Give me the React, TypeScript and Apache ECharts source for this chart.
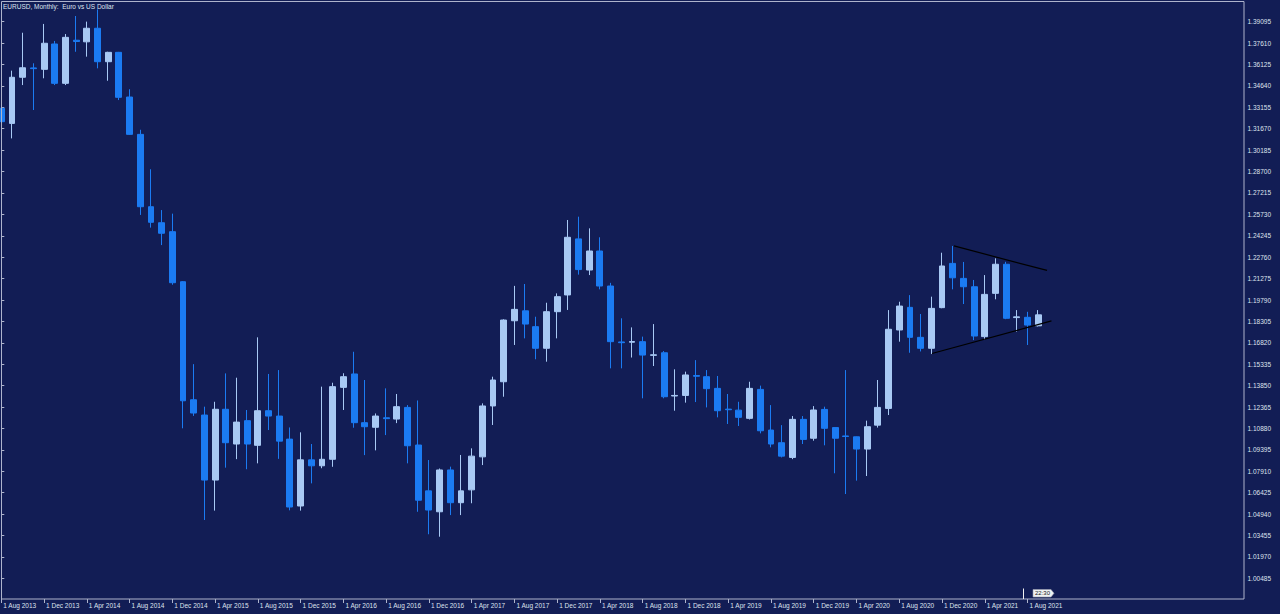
import React, { useEffect, useRef } from 'react';
import * as echarts from 'echarts';

const months: string[] = [
  '1 Aug 2013', '1 Sep 2013', '1 Oct 2013', '1 Nov 2013', '1 Dec 2013',
  '1 Jan 2014', '1 Feb 2014', '1 Mar 2014', '1 Apr 2014', '1 May 2014', '1 Jun 2014', '1 Jul 2014', '1 Aug 2014', '1 Sep 2014', '1 Oct 2014', '1 Nov 2014', '1 Dec 2014',
  '1 Jan 2015', '1 Feb 2015', '1 Mar 2015', '1 Apr 2015', '1 May 2015', '1 Jun 2015', '1 Jul 2015', '1 Aug 2015', '1 Sep 2015', '1 Oct 2015', '1 Nov 2015', '1 Dec 2015',
  '1 Jan 2016', '1 Feb 2016', '1 Mar 2016', '1 Apr 2016', '1 May 2016', '1 Jun 2016', '1 Jul 2016', '1 Aug 2016', '1 Sep 2016', '1 Oct 2016', '1 Nov 2016', '1 Dec 2016',
  '1 Jan 2017', '1 Feb 2017', '1 Mar 2017', '1 Apr 2017', '1 May 2017', '1 Jun 2017', '1 Jul 2017', '1 Aug 2017', '1 Sep 2017', '1 Oct 2017', '1 Nov 2017', '1 Dec 2017',
  '1 Jan 2018', '1 Feb 2018', '1 Mar 2018', '1 Apr 2018', '1 May 2018', '1 Jun 2018', '1 Jul 2018', '1 Aug 2018', '1 Sep 2018', '1 Oct 2018', '1 Nov 2018', '1 Dec 2018',
  '1 Jan 2019', '1 Feb 2019', '1 Mar 2019', '1 Apr 2019', '1 May 2019', '1 Jun 2019', '1 Jul 2019', '1 Aug 2019', '1 Sep 2019', '1 Oct 2019', '1 Nov 2019', '1 Dec 2019',
  '1 Jan 2020', '1 Feb 2020', '1 Mar 2020', '1 Apr 2020', '1 May 2020', '1 Jun 2020', '1 Jul 2020', '1 Aug 2020', '1 Sep 2020', '1 Oct 2020', '1 Nov 2020', '1 Dec 2020',
  '1 Jan 2021', '1 Feb 2021', '1 Mar 2021', '1 Apr 2021', '1 May 2021', '1 Jun 2021', '1 Jul 2021', '1 Aug 2021', '1 Sep 2021',
];

const opens: number[] = [
  1.3309, 1.3204, 1.3524, 1.3589, 1.3579, 1.3755, 1.3482, 1.3781, 1.3770, 1.3864,
  1.3632, 1.3697, 1.3387, 1.3128, 1.2626, 1.2515, 1.2453, 1.2106, 1.1287, 1.1181,
  1.0730, 1.1221, 1.0980, 1.1142, 1.0971, 1.1211, 1.1174, 1.1014, 1.0550, 1.0870,
  1.0829, 1.0874, 1.1373, 1.1466, 1.1128, 1.1096, 1.1162, 1.1153, 1.1234, 1.0973,
  1.0655, 1.0510, 1.0800, 1.0573, 1.0662, 1.0891, 1.1244, 1.1412, 1.1835, 1.1904,
  1.1794, 1.1644, 1.1898, 1.2014, 1.2403, 1.2187, 1.2319, 1.2076, 1.1688, 1.1686,
  1.1690, 1.1595, 1.1613, 1.1313, 1.1317, 1.1455, 1.1447, 1.1366, 1.1222, 1.1215,
  1.1158, 1.1359, 1.1077, 1.0989, 1.0887, 1.1151, 1.1020, 1.1220, 1.1094, 1.1036,
  1.1030, 1.0945, 1.1111, 1.1227, 1.1771, 1.1928, 1.1720, 1.1644, 1.1926, 1.2233,
  1.2129, 1.2071, 1.1725, 1.2025, 1.2227, 1.1857, 1.1859, 1.1800,
];

const closes: number[] = [
  1.3216, 1.3524, 1.3590, 1.3584, 1.3760, 1.3482, 1.3801, 1.3772, 1.3864, 1.3632,
  1.3697, 1.3385, 1.3128, 1.2626, 1.2518, 1.2442, 1.2099, 1.1280, 1.1195, 1.0730,
  1.1221, 1.0989, 1.1132, 1.0980, 1.1211, 1.1174, 1.1000, 1.0543, 1.0870, 1.0829,
  1.0874, 1.1378, 1.1447, 1.1128, 1.1100, 1.1174, 1.1156, 1.1239, 1.0968, 1.0590,
  1.0522, 1.0800, 1.0573, 1.0655, 1.0896, 1.1244, 1.1424, 1.1840, 1.1914, 1.1812,
  1.1644, 1.1898, 1.2002, 1.2414, 1.2190, 1.2319, 1.2076, 1.1690, 1.1683, 1.1691,
  1.1597, 1.1599, 1.1308, 1.1317, 1.1459, 1.1450, 1.1364, 1.1211, 1.1218, 1.1165,
  1.1366, 1.1072, 1.0980, 1.0896, 1.1151, 1.1012, 1.1216, 1.1089, 1.1020, 1.1032,
  1.0945, 1.1100, 1.1234, 1.1776, 1.1937, 1.1720, 1.1644, 1.1921, 1.2215, 1.2133,
  1.2071, 1.1729, 1.2018, 1.2227, 1.1852, 1.1862, 1.1805, 1.1876,
];

const lows: number[] = [
  1.3208, 1.3100, 1.3470, 1.3297, 1.3517, 1.3470, 1.3470, 1.3701, 1.3667, 1.3586,
  1.3500, 1.3366, 1.3125, 1.2569, 1.2481, 1.2360, 1.2085, 1.1089, 1.1175, 1.0453,
  1.0518, 1.0816, 1.0875, 1.0805, 1.0846, 1.1077, 1.0877, 1.0520, 1.0518, 1.0707,
  1.0812, 1.0822, 1.1216, 1.1093, 1.0903, 1.0936, 1.1042, 1.1125, 1.0846, 1.0510,
  1.0354, 1.0337, 1.0487, 1.0487, 1.0569, 1.0834, 1.1112, 1.1308, 1.1667, 1.1713,
  1.1568, 1.1551, 1.1713, 1.1910, 1.2155, 1.2152, 1.2053, 1.1505, 1.1505, 1.1580,
  1.1297, 1.1521, 1.1297, 1.1211, 1.1267, 1.1271, 1.1234, 1.1165, 1.1119, 1.1105,
  1.1150, 1.1054, 1.0957, 1.0887, 1.0875, 1.0980, 1.1003, 1.0971, 1.0777, 1.0633,
  1.0726, 1.0758, 1.1094, 1.1181, 1.1690, 1.1613, 1.1622, 1.1604, 1.1922, 1.2053,
  1.1951, 1.1701, 1.1704, 1.1984, 1.1846, 1.1759, 1.1667, 1.1795,
];

const highs: number[] = [
  1.3320, 1.3570, 1.3833, 1.3621, 1.3894, 1.3776, 1.3824, 1.3949, 1.3910, 1.3995,
  1.3701, 1.3700, 1.3441, 1.3160, 1.2886, 1.2603, 1.2578, 1.2110, 1.1534, 1.1239,
  1.1273, 1.1470, 1.1440, 1.1216, 1.1720, 1.1466, 1.1493, 1.1095, 1.1061, 1.0980,
  1.1378, 1.1405, 1.1471, 1.1620, 1.1424, 1.1192, 1.1366, 1.1327, 1.1250, 1.1282,
  1.0869, 1.0810, 1.0823, 1.0904, 1.0950, 1.1262, 1.1447, 1.1845, 1.2077, 1.2090,
  1.1863, 1.1960, 1.2025, 1.2534, 1.2557, 1.2476, 1.2414, 1.2098, 1.1852, 1.1789,
  1.1725, 1.1812, 1.1625, 1.1498, 1.1482, 1.1562, 1.1493, 1.1452, 1.1327, 1.1273,
  1.1412, 1.1385, 1.1250, 1.1111, 1.1174, 1.1174, 1.1243, 1.1239, 1.1096, 1.1493,
  1.1032, 1.1142, 1.1424, 1.1909, 1.1967, 1.2013, 1.1882, 1.2002, 1.2307, 1.2354,
  1.2243, 1.2118, 1.2152, 1.2268, 1.2244, 1.1909, 1.1897, 1.1909,
];

// empty future slots on the right of the last bar
const emptySlots = 19;

const priceTicks: number[] = [
  1.00485, 1.0197, 1.03455, 1.0494, 1.06425, 1.0791, 1.09395, 1.1088, 1.12365,
  1.1385, 1.15335, 1.1682, 1.18305, 1.1979, 1.21275, 1.2276, 1.24245, 1.2573,
  1.27215, 1.287, 1.30185, 1.3167, 1.33155, 1.3464, 1.36125, 1.3761, 1.39095,
];

// trend lines: [bar index, price]
const upperTrend: number[][] = [[89.12, 1.2354], [97.82, 1.2184]];
const lowerTrend: number[][] = [[87.06, 1.1608], [98.24, 1.1834]];

const titleText = 'EURUSD, Monthly:  Euro vs US Dollar';
const timeText = '22:30';

const BG = '#121d55';
const UP = '#a8c9f4';
const DOWN = '#1b7bf2';
const FRAME = '#aeb4cc';
const TEXT = '#dfe3ee';
const FONT = 'Liberation Sans, Arial, sans-serif';

export default function App() {
  const ref = useRef<HTMLDivElement>(null);

  useEffect(() => {
    if (!ref.current) return;
    const chart = echarts.init(ref.current, null, { renderer: 'svg' });

    const categories = months.concat(new Array(emptySlots).fill(''));
    const candles = opens.map((o, i) => [o, closes[i], lows[i], highs[i]]);
    const nSlots = categories.length;
    const showIdx = (idx: number) => idx % 4 === 0 && idx < months.length;

    chart.setOption({
      animation: false,
      backgroundColor: BG,
      textStyle: { fontFamily: FONT },
      grid: {
        left: -4.045,
        right: 33.3,
        top: 2,
        bottom: 15,
        containLabel: false,
        outerBoundsMode: 'none',
      },
      xAxis: [
        {
          type: 'category',
          data: categories,
          boundaryGap: true,
          axisLine: { show: false },
          axisTick: {
            show: true,
            alignWithLabel: true,
            interval: (idx: number) => showIdx(idx),
            length: 4,
            lineStyle: { color: FRAME, width: 1 },
          },
          axisLabel: {
            interval: (idx: number) => showIdx(idx),
            align: 'left',
            margin: 3,
            padding: [0, 0, 0, 2],
            color: TEXT,
            fontSize: 6.5,
            fontFamily: FONT,
          },
          splitLine: { show: false },
        },
        {
          type: 'value',
          min: -0.5,
          max: nSlots - 0.5,
          show: false,
        },
      ],
      yAxis: {
        type: 'value',
        position: 'right',
        offset: -2.7,
        min: 0.99049,
        max: 1.40462,
        axisLine: { show: false },
        axisTick: {
          show: true,
          customValues: priceTicks,
          length: 3,
          lineStyle: { color: FRAME, width: 1 },
        },
        axisLabel: {
          customValues: priceTicks,
          formatter: (v: number) => v.toFixed(5),
          margin: 3.5,
          color: TEXT,
          fontSize: 6.5,
          fontFamily: FONT,
        },
        splitLine: { show: false },
      },
      series: [
        {
          type: 'candlestick',
          xAxisIndex: 0,
          yAxisIndex: 0,
          data: candles,
          barWidth: 6.4,
          clip: true,
          itemStyle: {
            color: UP,
            color0: DOWN,
            borderColor: UP,
            borderColor0: DOWN,
            borderWidth: 1,
          },
          silent: true,
        },
        {
          type: 'line',
          xAxisIndex: 1,
          yAxisIndex: 0,
          data: upperTrend,
          symbol: 'none',
          lineStyle: { color: '#000000', width: 1.2 },
          silent: true,
          z: 5,
        },
        {
          type: 'line',
          xAxisIndex: 1,
          yAxisIndex: 0,
          data: lowerTrend,
          symbol: 'none',
          lineStyle: { color: '#000000', width: 1.2 },
          silent: true,
          z: 5,
        },
      ],
      graphic: [
        {
          type: 'rect',
          shape: { x: 1.5, y: 1.5, width: 1242.5, height: 597.5 },
          style: { fill: 'transparent', stroke: FRAME, lineWidth: 1 },
          silent: true,
          z: 100,
        },
        {
          type: 'text',
          x: 3,
          y: 2.5,
          style: {
            text: titleText,
            fill: TEXT,
            fontSize: 6.5,
            fontFamily: FONT,
          },
          silent: true,
          z: 101,
        },
        {
          type: 'line',
          shape: { x1: 1023.5, y1: 588.5, x2: 1023.5, y2: 599 },
          style: { stroke: '#f0f0f0', lineWidth: 1 },
          silent: true,
          z: 101,
        },
        {
          type: 'polygon',
          shape: {
            points: [[1033, 589.5], [1051, 589.5], [1054, 593.3], [1051, 597], [1033, 597]],
          },
          style: { fill: '#eef1f2', stroke: '#9aa0b0', lineWidth: 0.6 },
          silent: true,
          z: 101,
        },
        {
          type: 'text',
          x: 1042.5,
          y: 593.4,
          style: {
            text: timeText,
            fill: '#1a1a1a',
            fontSize: 6,
            fontFamily: FONT,
            align: 'center',
            verticalAlign: 'middle',
          },
          silent: true,
          z: 102,
        },
      ],
    });

    return () => {
      chart.dispose();
    };
  }, []);

  return (
    <div
      ref={ref}
      style={{ position: 'fixed', left: 0, top: 0, width: 1280, height: 614 }}
    />
  );
}
